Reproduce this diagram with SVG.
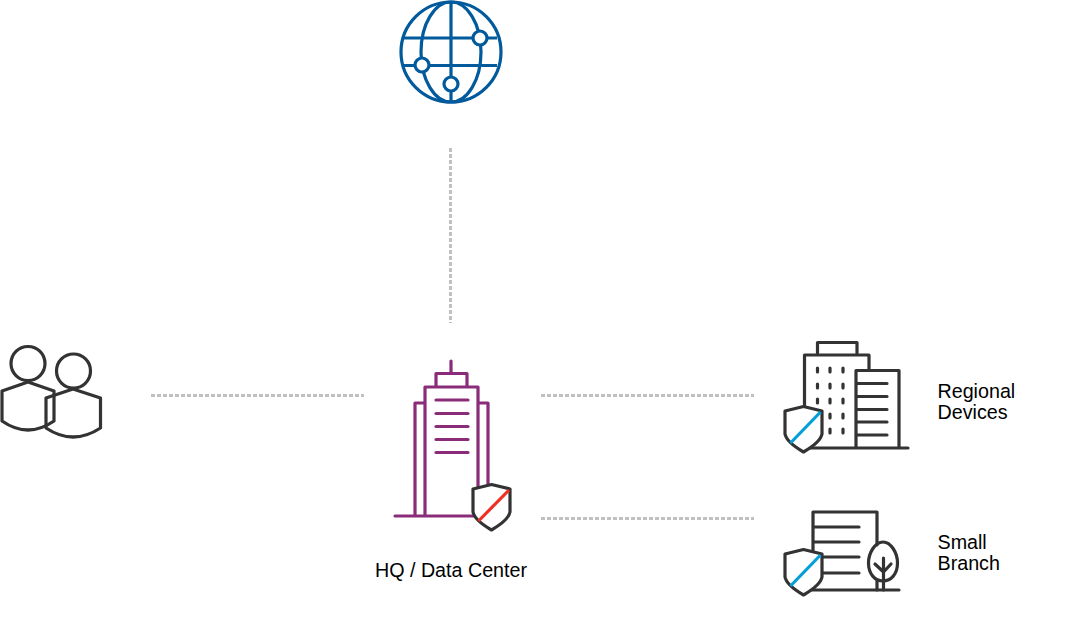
<svg xmlns="http://www.w3.org/2000/svg" width="1077" height="617" viewBox="0 0 1077 617">
<style>
.dk{fill:none;stroke:#333333;stroke-width:3.200;stroke-linecap:round;stroke-linejoin:round}
.pp{fill:none;stroke:#8b2c7a;stroke-width:3.200;stroke-linecap:round;stroke-linejoin:round}
.gl{fill:none;stroke:#005a9c;stroke-width:3.200}
.nd{fill:#fff;stroke:#005a9c;stroke-width:3.200}
.sh{fill:#fff;stroke:#333333;stroke-width:3.200;stroke-linejoin:round}
.red{stroke:#ee3124;stroke-width:3.200;fill:none}
.blu{stroke:#049fd9;stroke-width:3.200;fill:none}
.cn{stroke:#c0c0c0;stroke-width:3;stroke-dasharray:4 2;fill:none}
text{font-family:"Liberation Sans",Arial,sans-serif;font-size:19.700px;fill:#000}
</style>
<defs>
<path id="shield" d="M491.500 484.500L473 489V512Q474.500 520 491.500 530Q508.500 520 510 512V489Z"/>
</defs>
<rect width="1077" height="617" fill="#fff"/>
<g id="connectors">
<path class="cn" d="M450.500 148V323"/>
<path class="cn" d="M151 395.500H364"/>
<path class="cn" d="M541 395.500H754"/>
<path class="cn" d="M541 518.500H754"/>
</g>
<g id="internet">
<circle class="gl" cx="451" cy="52" r="50"/>
<ellipse class="gl" cx="451" cy="52" rx="30" ry="50"/>
<path class="gl" d="M451 2V102M403 38H497M403 65.500H497"/>
<circle class="nd" cx="480" cy="38" r="7"/>
<circle class="nd" cx="422" cy="65" r="7"/>
<circle class="nd" cx="451" cy="84" r="7"/>
</g>
<g id="users">
<circle class="dk" cx="28" cy="363.500" r="17"/>
<path class="dk" d="M28 382L2 391V421Q28 439 54 421V391Z"/>
<circle class="dk" cx="73.500" cy="371" r="17"/>
<path class="dk" d="M73 389L46 398V428Q73 446 100.500 428V398Z"/>
</g>
<g id="hq">
<path class="pp" d="M451 361V373M436 386V373.500H467V386M425 516V387H478V516M425 403H415V516M478 403H488V490M395 516H476"/>
<path class="pp" d="M436 400H468M436 413.500H468M436 426.500H468M436 439.500H468M436 452.500H468"/>
<use href="#shield" class="sh"/>
<path class="red" d="M478.500 521L509 490"/>
<text x="451" y="576.500" text-anchor="middle">HQ / Data Center</text>
</g>
<g id="regional">
<path class="dk" d="M817.500 353V342.500H857V353M804.500 407V355H869V370M856 448V370.500H899V448M810 448H908"/>
<path class="dk" d="M857 383.500H887M857 396.500H887M857 409.500H887M857 422H887M857 435H887"/>
<path class="dk" d="M817.500 368V372M830 368V372M843 368V372M817.500 384V388M830 384V388M843 384V388M817.500 399V403M830 399V403M843 399V403M830 414V418M843 414V418M830 429V433M843 429V433"/>
<use href="#shield" class="sh" x="312" y="-78"/>
<path class="blu" d="M790.500 443L820.500 412"/>
<text x="937.500" y="398">Regional</text>
<text x="937.500" y="419">Devices</text>
</g>
<g id="branch">
<path class="dk" d="M813 550V512H877V545M813 527H859M813 542H859M813 557H859M813 573H859M812 590H899"/>
<path d="M883 542C875 542 868.500 553 868.500 563C868.500 574 875 581 883 581C891 581 897.500 574 897.500 563C897.500 553 891 542 883 542Z" class="dk"/>
<path class="dk" d="M877 581V590M883.500 558V590M875 564L883.500 572M891 564L883.500 572"/>
<use href="#shield" class="sh" x="312" y="65"/>
<path class="blu" d="M790.500 586L820.500 555"/>
<text x="937.500" y="549">Small</text>
<text x="937.500" y="570">Branch</text>
</g>
</svg>
